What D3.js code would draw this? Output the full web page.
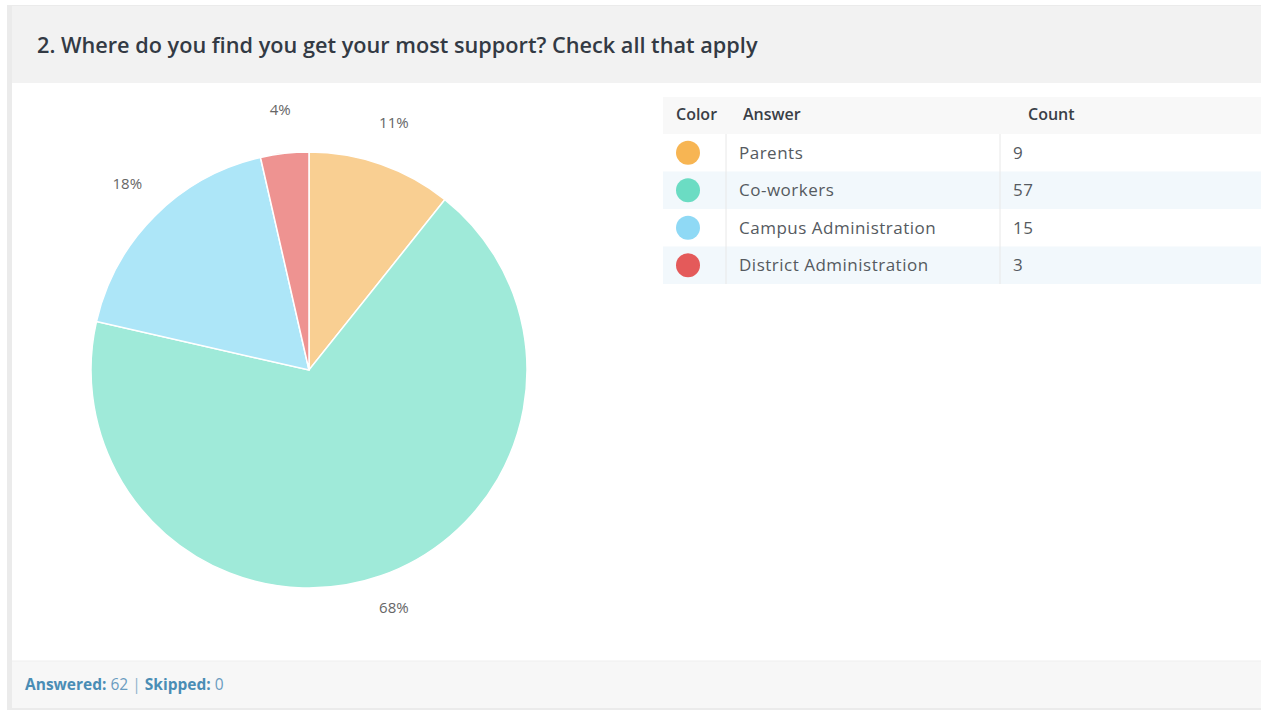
<!DOCTYPE html>
<html>
<head>
<meta charset="utf-8">
<script src="https://cdn.jsdelivr.net/npm/d3@7"></script>
<style>
  html, body { margin: 0; padding: 0; background: #ffffff; }
  svg { display: block; font-family: "Open Sans", "Noto Sans", sans-serif; }
</style>
</head>
<body>
<svg id="chart" width="1261" height="711"></svg>
<script>
// Survey question 2: answer options, counts and colours
const answers = ["Parents", "Co-workers", "Campus Administration", "District Administration"];
const counts = [9, 57, 15, 3];
const sliceColors = ["#f9cf92", "#9fead9", "#ade6f8", "#ee9391"];
const swatchColors = ["#f7b553", "#6bdcc3", "#8fd9f5", "#e45a5a"];
const tableHeaders = ["Color", "Answer", "Count"];
const answered = 62;
const skipped = 0;

const svg = d3.select("#chart");
const W = 1261, H = 711;

// Card frame
svg.append("rect").attr("x", 7).attr("y", 5).attr("width", W - 7).attr("height", 705).attr("fill", "#ebebeb");
svg.append("rect").attr("x", 12).attr("y", 6).attr("width", W - 12).attr("height", 702).attr("fill", "#ffffff");

// Header band with the question
svg.append("rect").attr("x", 12).attr("y", 6).attr("width", W - 12).attr("height", 77).attr("fill", "#f2f2f2");
svg.append("text")
  .attr("x", 37).attr("y", 53)
  .attr("font-size", 21.7).attr("font-weight", 600)
  .attr("fill", "#333a44")
  .text("2. Where do you find you get your most support? Check all that apply");

// Footer band
svg.append("rect").attr("x", 12).attr("y", 661).attr("width", W - 12).attr("height", 47).attr("fill", "#f7f7f7");
svg.append("line").attr("x1", 12).attr("x2", W).attr("y1", 661).attr("y2", 661).attr("stroke", "#efefef");
const foot = svg.append("text").attr("x", 25).attr("y", 690).attr("font-size", 15.5);
foot.append("tspan").attr("font-weight", 700).attr("fill", "#4a8db5").text("Answered: ");
foot.append("tspan").attr("fill", "#6a9cc0").text(answered);
foot.append("tspan").attr("fill", "#8fb3cc").text("  |  ");
foot.append("tspan").attr("font-weight", 700).attr("fill", "#4a8db5").text("Skipped: ");
foot.append("tspan").attr("fill", "#6a9cc0").text(skipped);

// Pie chart
const total = d3.sum(counts);
const data = answers.map((a, i) => ({ answer: a, count: counts[i], i }));
const pie = d3.pie().value(d => d.count).sort(null);
const arcs = pie(data);
const cx = 309, cy = 370, R = 218;
const arc = d3.arc().innerRadius(0).outerRadius(R);
const labelArc = d3.arc().innerRadius(257).outerRadius(257);

const g = svg.append("g").attr("transform", `translate(${cx},${cy})`);
g.selectAll("path.slice")
  .data(arcs)
  .join("path")
  .attr("class", "slice")
  .attr("d", arc)
  .attr("fill", d => sliceColors[d.data.i])
  .attr("stroke", "#ffffff")
  .attr("stroke-width", 1.5);

g.selectAll("text.pct")
  .data(arcs)
  .join("text")
  .attr("class", "pct")
  .attr("transform", d => `translate(${labelArc.centroid(d)})`)
  .attr("text-anchor", "middle")
  .attr("dy", "0.05em")
  .attr("font-size", 15)
  .attr("fill", "#666666")
  .text(d => Math.round(d.data.count / total * 100) + "%");

// Answer table
const tx = 663, tw = W - 663, headY = 97, headH = 37, rowH = 37.5;
const colX = [tx, 726, 1000];
const table = svg.append("g");
table.append("rect").attr("x", tx).attr("y", headY).attr("width", tw).attr("height", headH).attr("fill", "#f8f8f8");
const headerX = [676, 743, 1028];
table.selectAll("text.head")
  .data(tableHeaders)
  .join("text")
  .attr("class", "head")
  .attr("x", (d, i) => headerX[i])
  .attr("y", headY + headH / 2)
  .attr("dy", "0.3em")
  .attr("font-size", 16).attr("font-weight", 600)
  .attr("fill", "#3a3f47")
  .text(d => d);

const rows = table.selectAll("g.row")
  .data(data)
  .join("g")
  .attr("class", "row")
  .attr("transform", (d, i) => `translate(0,${headY + headH + i * rowH})`);
rows.append("rect")
  .attr("x", tx).attr("width", tw).attr("height", rowH)
  .attr("fill", (d, i) => i % 2 ? "#f2f8fc" : "#ffffff");
rows.append("circle")
  .attr("cx", 688).attr("cy", rowH / 2).attr("r", 12)
  .attr("fill", d => swatchColors[d.i]);
rows.append("text")
  .attr("x", 739).attr("y", rowH / 2).attr("dy", "0.35em")
  .attr("font-size", 17).attr("letter-spacing", 0.5).attr("fill", "#555a60")
  .text(d => d.answer);
rows.append("text")
  .attr("x", 1013).attr("y", rowH / 2).attr("dy", "0.35em")
  .attr("font-size", 17).attr("letter-spacing", 0.5).attr("fill", "#555a60")
  .text(d => d.count);

// Column separators
[colX[1], colX[2]].forEach(x => {
  table.append("line")
    .attr("x1", x).attr("x2", x)
    .attr("y1", headY + headH).attr("y2", headY + headH + rowH * data.length)
    .attr("stroke", "#e8e8e8");
});
</script>
</body>
</html>
